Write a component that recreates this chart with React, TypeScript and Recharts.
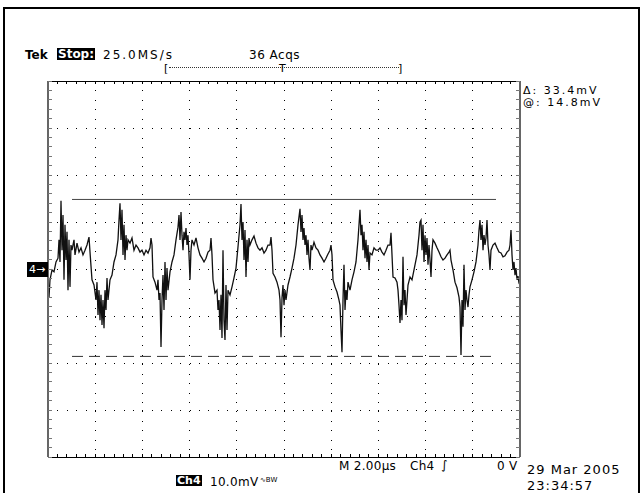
import React from "react";
import { CartesianGrid, Line, LineChart, ReferenceLine, XAxis, YAxis } from "recharts";

// record position (display column, 472 per 10 div) and Ch4 level in mV
const SAMPLE_IDX = [
  0, 1, 2, 4, 6, 8, 10, 11, 12, 13, 14, 15, 16, 17, 18, 19, 20, 21, 22, 23, 24, 26, 27, 29, 31, 33, 35, 37, 39, 41,
  42, 44, 46, 48, 49, 50, 51, 52, 53, 54, 55, 56, 57, 58, 59, 60, 62, 64, 66, 68, 70, 71, 72, 73, 74, 75, 76, 77, 78,
  79, 80, 82, 84, 86, 88, 90, 92, 94, 96, 98, 100, 102, 103, 104, 105, 107, 109, 110, 111, 112, 113, 114, 115, 116,
  117, 118, 119, 120, 122, 124, 126, 128, 130, 131, 132, 133, 134, 135, 136, 137, 138, 139, 140, 141, 142, 143, 144,
  146, 148, 150, 152, 154, 156, 158, 160, 162, 163, 164, 165, 167, 169, 170, 171, 172, 173, 174, 175, 176, 177, 178,
  179, 180, 182, 184, 186, 188, 190, 192, 193, 194, 195, 196, 197, 198, 199, 200, 201, 202, 204, 206, 208, 210, 212,
  214, 216, 218, 220, 222, 223, 224, 225, 227, 229, 231, 232, 233, 234, 235, 236, 237, 238, 240, 242, 244, 246, 248,
  250, 252, 253, 254, 255, 256, 257, 258, 259, 260, 261, 262, 263, 264, 266, 268, 270, 272, 274, 276, 278, 280, 282,
  283, 284, 285, 287, 289, 291, 292, 293, 294, 295, 296, 297, 298, 299, 300, 302, 304, 306, 308, 310, 311, 312, 313,
  314, 315, 316, 317, 318, 319, 320, 321, 322, 324, 326, 328, 330, 332, 334, 336, 338, 340, 342, 343, 344, 345, 347,
  349, 350, 351, 352, 353, 354, 355, 356, 357, 358, 360, 362, 364, 366, 367, 369, 371, 372, 373, 374, 375, 376, 377,
  378, 379, 380, 381, 382, 383, 384, 385, 387, 389, 391, 393, 395, 397, 399, 401, 402, 403, 405, 407, 409, 411, 412,
  413, 414, 415, 416, 417, 418, 419, 420, 421, 422, 424, 426, 428, 430, 431, 432, 433, 434, 435, 436, 437, 438, 439,
  440, 441, 442, 443, 445, 447, 449, 451, 453, 455, 457, 459, 461, 462, 463, 464, 465, 466, 467, 468, 469, 470, 471,
  472,
];

const CH4_MV = [
  -3.4, -6.0, -2.3, -0.2, -0.6, 1.5, 2.3, 6.2, 1.5, 14.5, 4.0, 11.5, -2.3, 9.4, 1.9, 7.9, -4.5, 6.2, -3.8, 5.1, 4.0,
  6.2, 3.0, 5.5, 3.6, 4.5, 3.0, 4.0, 5.1, 6.8, 3.6, -2.3, -3.4, -6.6, -2.8, -9.8, -4.5, -10.9, -5.5, -11.9, -6.6,
  -12.6, -4.5, -8.7, -1.9, -6.6, -2.3, -1.3, 1.5, 3.0, 6.2, 10.4, 14.0, 6.2, 12.6, 3.0, 9.4, 1.9, 7.2, 4.0, 6.2, 5.5,
  6.6, 4.0, 5.1, 4.5, 3.6, 4.0, 3.0, 4.0, 3.4, 4.5, 6.6, 5.1, -1.7, -2.8, -4.5, -2.3, -6.6, -5.1, -16.6, -6.6, -1.3,
  -8.7, 1.5, -6.6, 0.2, -4.5, -0.6, 1.5, 3.0, 6.2, 8.9, 11.5, 6.2, 12.1, 7.2, 4.0, 7.9, 6.2, 8.7, 5.1, 7.2, 3.0, -2.3,
  4.0, 6.2, 5.1, 6.6, 4.5, 3.0, 2.3, 1.5, 2.3, 3.6, 4.0, 6.6, 3.0, -2.3, -5.1, -4.5, -8.7, -6.6, -13.0, -5.5, -14.7,
  4.0, -10.9, -15.1, -3.4, -13.0, -4.5, -5.5, -3.8, -1.9, 0.2, 4.7, 9.4, 13.8, 6.2, 10.0, 1.9, 8.3, -1.7, 6.2, 1.5,
  6.6, 5.1, 6.2, 7.0, 5.5, 4.5, 4.0, 4.5, 3.4, 4.0, 5.1, 5.1, 6.8, 4.0, -0.9, -1.7, -2.8, -4.5, -6.6, -14.5, -6.2,
  -3.4, -7.7, -4.5, -6.6, -3.4, -1.7, 0.2, 2.3, 5.1, 9.4, 12.8, 7.9, 11.5, 6.2, 8.7, 5.1, 7.2, 3.0, 6.2, 2.3, -0.2,
  5.1, 4.0, 5.7, 4.5, 4.0, 3.0, 2.3, 1.5, 2.3, 3.2, 4.0, 5.1, 3.0, -2.3, -3.8, -4.9, -6.6, -7.7, -13.0, -17.7, -6.6,
  0.9, -8.7, -4.5, -6.6, -2.8, -4.5, -2.3, -0.6, 1.5, 6.2, 9.4, 12.6, 7.2, 9.4, 4.0, 7.9, 2.3, 6.2, 1.5, 5.1, -0.2,
  3.4, 3.0, 4.5, 4.0, 4.0, 4.5, 3.6, 3.0, 4.0, 5.1, 5.1, 7.7, 3.0, -1.7, -1.9, -2.8, -4.5, -7.7, -11.5, -6.6, -10.9,
  2.6, -7.7, -4.5, -9.8, -3.4, -1.7, -2.3, -0.2, 0.9, 3.0, 7.2, 10.0, 10.4, 4.0, 9.4, 1.5, 7.2, 3.0, 6.6, 0.9, 5.1,
  1.9, -1.7, 4.0, 6.2, 5.5, 4.5, 3.6, 2.6, 1.9, 2.3, 3.0, 3.6, 4.0, 1.9, -0.2, -2.8, -4.0, -6.0, -8.1, -18.3, -6.6,
  -12.3, 0.9, -8.7, -4.5, -6.6, -8.1, -5.5, -3.8, -2.3, -0.6, 1.5, 5.1, 8.3, 10.4, 6.2, 9.4, 4.0, 7.2, 5.1, 6.6, 10.4,
  5.1, 3.0, -0.2, 4.0, 5.1, 5.5, 4.5, 3.6, 3.4, 2.6, 2.8, 3.6, 4.0, 5.1, 8.3, 3.0, -0.2, 1.5, -1.3, 0.2, -2.3, -1.5,
  -3.0, -3.4,
];

// graticule: 10 x 8 divisions, 47.2 columns / 10 mV per division
const GRID_X = [47.2, 94.4, 141.6, 188.8, 236, 283.2, 330.4, 377.6, 424.8];
const GRID_Y = [-30, -20, -10, 0, 10, 20, 30];
const MINOR_X = Array.from({ length: 51 }, (_, k) => +(k * 9.44).toFixed(2));
const MINOR_Y = Array.from({ length: 41 }, (_, k) => -40 + k * 2);

const CURSOR_AT_MV = 14.8;
const CURSOR_DELTA_MV = 33.4;
const CURSOR_SPAN = [24, 448];

const data = SAMPLE_IDX.map((t, i) => ({ t, mv: CH4_MV[i] }));

const FONT = '"DejaVu Sans", Verdana, sans-serif';
const blank = () => "";

function Txt({ x, y, size = 12, bold = false, inverse = false, spacing = 0.5, children }: any) {
  return (
    <div
      style={{
        position: "absolute",
        left: x,
        top: y,
        fontFamily: FONT,
        fontSize: size,
        fontWeight: bold ? 700 : 400,
        letterSpacing: spacing,
        lineHeight: 1,
        whiteSpace: "nowrap",
        color: inverse ? "#fff" : "#000",
        background: inverse ? "#000" : "transparent",
        padding: inverse ? "0 1px" : 0,
      }}
    >
      {children}
    </div>
  );
}

export default function App() {
  const lower = +(CURSOR_AT_MV - CURSOR_DELTA_MV).toFixed(1);
  const edge = { stroke: "#000", shapeRendering: "crispEdges" };
  return (
    <div style={{ position: "absolute", left: 0, top: 0, width: 642, height: 493, background: "#fff", overflow: "hidden" }}>
      <div style={{ position: "absolute", left: 3, top: 7, width: 633, height: 500, border: "2px solid #000" }} />
      <LineChart width={642} height={493} data={data} margin={{ top: 81, right: 122, bottom: 36, left: 48 }}>
        <CartesianGrid
          stroke="#000"
          strokeWidth={1}
          strokeDasharray="1 8.44"
          shapeRendering="crispEdges"
          horizontalValues={GRID_Y}
          verticalValues={GRID_X}
        />
        <XAxis
          type="number"
          dataKey="t"
          domain={[0, 472]}
          ticks={MINOR_X}
          allowDataOverflow
          mirror
          tickFormatter={blank}
          tickSize={3}
          axisLine={edge}
          tickLine={edge}
        />
        <XAxis
          xAxisId="top"
          orientation="top"
          type="number"
          dataKey="t"
          domain={[0, 472]}
          ticks={MINOR_X}
          allowDataOverflow
          mirror
          tickFormatter={blank}
          tickSize={3}
          axisLine={edge}
          tickLine={edge}
        />
        <YAxis
          type="number"
          domain={[-40, 40]}
          ticks={MINOR_Y}
          allowDataOverflow
          mirror
          tickFormatter={blank}
          tickSize={4}
          axisLine={{ stroke: "#666", strokeWidth: 2 }}
          tickLine={{ stroke: "#777", shapeRendering: "crispEdges" }}
        />
        <YAxis
          yAxisId="right"
          orientation="right"
          type="number"
          domain={[-40, 40]}
          ticks={MINOR_Y}
          allowDataOverflow
          mirror
          tickFormatter={blank}
          tickSize={4}
          axisLine={{ stroke: "#666", strokeWidth: 2 }}
          tickLine={{ stroke: "#777", shapeRendering: "crispEdges" }}
        />
        <ReferenceLine
          segment={[
            { x: CURSOR_SPAN[0], y: CURSOR_AT_MV },
            { x: CURSOR_SPAN[1], y: CURSOR_AT_MV },
          ]}
          stroke="#444"
          strokeWidth={1}
        />
        <ReferenceLine
          segment={[
            { x: CURSOR_SPAN[0], y: lower },
            { x: CURSOR_SPAN[1], y: lower },
          ]}
          stroke="#333"
          strokeWidth={1}
          strokeDasharray="11 6"
        />
        <Line
          type="linear"
          dataKey="mv"
          stroke="#111"
          strokeWidth={1.3}
          dot={false}
          isAnimationActive={false}
        />
      </LineChart>

      <Txt x={25} y={49} bold spacing={0}>Tek</Txt>
      <Txt x={57} y={48} bold inverse spacing={0}>Stop:</Txt>
      <Txt x={103} y={49} spacing={2}>25.0MS/s</Txt>
      <Txt x={249} y={49} spacing={0.5}>36 Acqs</Txt>
      <Txt x={164} y={63} size={11} spacing={0}>[</Txt>
      <div style={{ position: "absolute", left: 169, top: 67, width: 230, borderTop: "1px dotted #333" }} />
      <Txt x={279} y={63} size={11} spacing={0}>T</Txt>
      <Txt x={398} y={63} size={11} spacing={0}>]</Txt>

      <Txt x={523} y={85} size={11} spacing={2}>Δ: 33.4mV</Txt>
      <Txt x={523} y={97} size={11} spacing={2}>@: 14.8mV</Txt>

      <div
        style={{
          position: "absolute",
          left: 27,
          top: 262,
          width: 21,
          height: 15,
          background: "#000",
          color: "#fff",
          fontFamily: FONT,
          fontSize: 11,
          lineHeight: "15px",
          paddingLeft: 2,
          boxSizing: "border-box",
        }}
      >
        4→
      </div>

      <Txt x={339} y={460} spacing={0.3}>M 2.00µs</Txt>
      <Txt x={410} y={460} spacing={0.3}>Ch4</Txt>
      <Txt x={441} y={459} spacing={0}>∫</Txt>
      <Txt x={497} y={460} spacing={0.3}>0 V</Txt>
      <Txt x={527} y={463} size={13} spacing={1}>29 Mar 2005</Txt>
      <Txt x={527} y={479} size={13} spacing={1}>23:34:57</Txt>
      <Txt x={176} y={475} size={11} bold inverse spacing={0}>Ch4</Txt>
      <Txt x={210} y={476} spacing={0.3}>10.0mV</Txt>
      <Txt x={260} y={477} size={7} spacing={0}>∿BW</Txt>
    </div>
  );
}
